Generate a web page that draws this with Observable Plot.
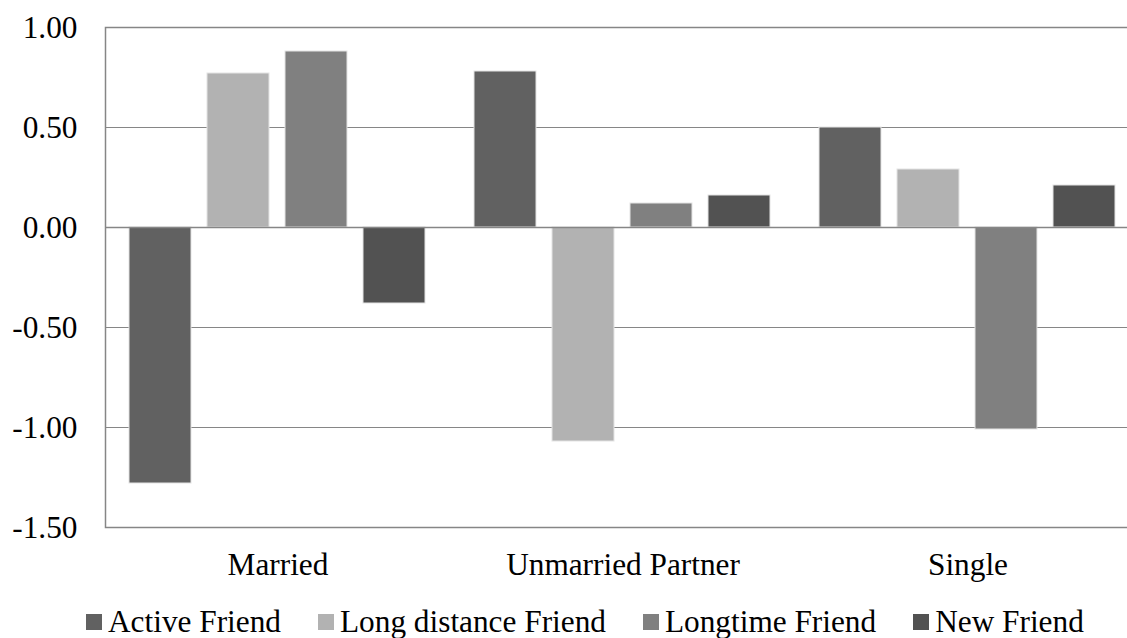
<!DOCTYPE html>
<html>
<head>
<meta charset="utf-8">
<script src="https://cdn.jsdelivr.net/npm/d3@7"></script>
<script src="https://cdn.jsdelivr.net/npm/@observablehq/plot@0.6"></script>
<style>
  html, body { margin: 0; padding: 0; background: #fff; }
  body { width: 1127px; height: 638px; position: relative; overflow: hidden; }
  body, body * { font-family: "Liberation Serif", "Times New Roman", Times, serif !important; }
  #chart { position: absolute; left: 0; top: 0; }
  #legend { position: absolute; left: 86px; top: 604px; display: flex; align-items: center; font-size: 31.3px; line-height: 36px; color: #000; white-space: nowrap; }
  #legend .item { display: flex; align-items: center; margin-right: 37px; }
  #legend .item:last-child { margin-right: 0; }
  #legend .swatch { width: 16px; height: 16px; margin-right: 6px; }
</style>
</head>
<body>
<div id="chart"></div>
<div id="legend"></div>
<script>
// Relationship status groups and friend types
const groups = ["Married", "Unmarried Partner", "Single"];
const series = ["Active Friend", "Long distance Friend", "Longtime Friend", "New Friend"];
const colors = ["#616161", "#b2b2b2", "#808080", "#525252"];

// Values per group, in series order
const married = [-1.28, 0.77, 0.88, -0.38];
const unmarried = [0.78, -1.07, 0.12, 0.16];
const single = [0.50, 0.29, -1.01, 0.21];

const yTicks = [-1.5, -1.0, -0.5, 0, 0.5, 1.0];

const table = [married, unmarried, single].flatMap((vals, gi) =>
  vals.map((v, si) => ({group: groups[gi], series: series[si], value: v}))
);

const gray = "#868686";

const chart = Plot.plot({
  width: 1127,
  height: 590,
  marginLeft: 104,
  marginRight: -14,
  marginTop: 27,
  marginBottom: 63,
  style: {fontFamily: '"Liberation Serif", "Times New Roman", serif', fontSize: "31.3px", color: "#000", background: "#fff", overflow: "visible"},
  fx: {domain: groups, padding: 0, label: null},
  x: {domain: series, paddingInner: 0.2, paddingOuter: 0.3075, axis: null},
  y: {domain: [-1.5, 1.0], label: null},
  color: {domain: series, range: colors},
  marks: [
    Plot.gridY(yTicks, {stroke: gray, strokeOpacity: 1, strokeWidth: 1}),
    Plot.frame({stroke: gray, strokeWidth: 1.5, facet: "super"}),
    Plot.barY(table, {fx: "group", x: "series", y: "value", fill: "series", stroke: "#e4e4e4", strokeWidth: 1}),
    Plot.ruleY([0], {stroke: gray, strokeWidth: 1.5}),
    Plot.axisY(yTicks, {tickSize: 0, tickPadding: 28, fontSize: 31.3, tickFormat: d => d.toFixed(2), label: null}),
    Plot.axisFx({anchor: "bottom", tickSize: 0, tickPadding: 25, fontSize: 31.3, label: null})
  ]
});
document.getElementById("chart").appendChild(chart);

// Legend below the chart
const legend = document.getElementById("legend");
series.forEach((s, i) => {
  const item = document.createElement("div");
  item.className = "item";
  const sw = document.createElement("span");
  sw.className = "swatch";
  sw.style.background = colors[i];
  const label = document.createElement("span");
  label.textContent = s;
  item.appendChild(sw);
  item.appendChild(label);
  legend.appendChild(item);
});
</script>
</body>
</html>
